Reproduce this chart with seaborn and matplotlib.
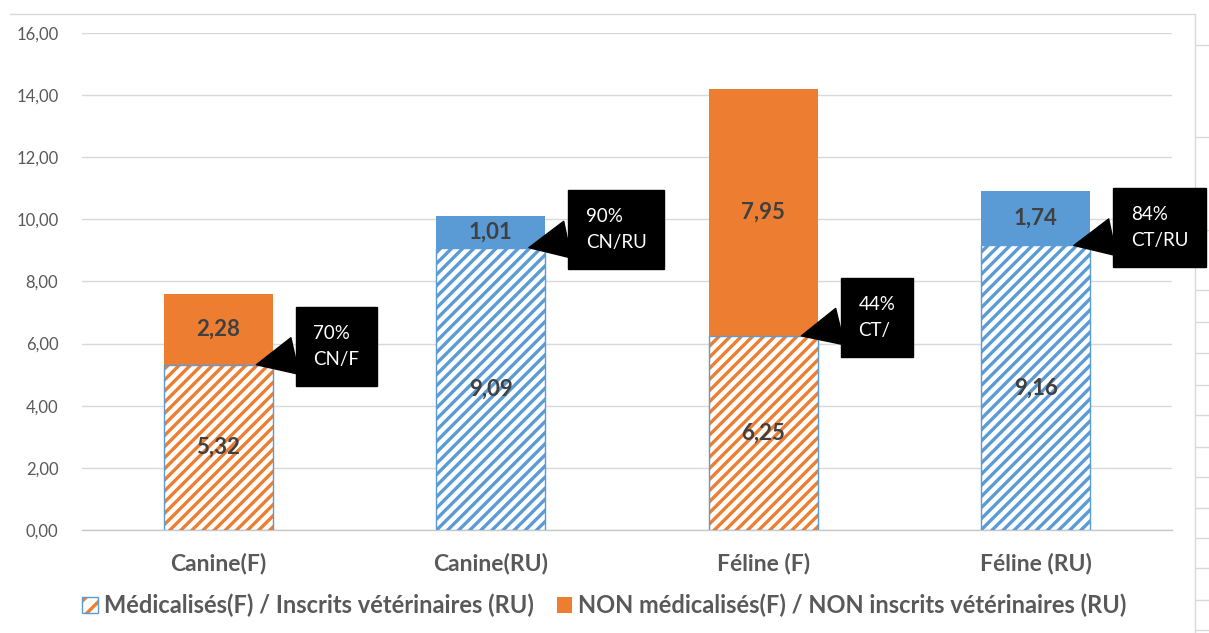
import numpy as np
import pandas as pd
import seaborn as sns
import matplotlib
matplotlib.use("Agg")
import matplotlib.pyplot as plt
from matplotlib.patches import Patch, Rectangle
from matplotlib.lines import Line2D

# chart values
categories = ["Canine(F)", "Canine(RU)", "Féline (F)", "Féline (RU)"]
medicalises = [5.32, 9.09, 6.25, 9.16]
non_medicalises = [2.28, 1.01, 7.95, 1.74]
callout_pct = ["70%", "90%", "44%", "84%"]
callout_code = ["CN/F", "CN/RU", "CT/", "CT/RU"]
bar_colors = ["#ED7D31", "#5B9BD5", "#ED7D31", "#5B9BD5"]
legend_labels = ["Médicalisés(F) / Inscrits vétérinaires (RU)",
                 "NON médicalisés(F) / NON inscrits vétérinaires (RU)"]
y_ticks = [0, 2, 4, 6, 8, 10, 12, 14, 16]

ORANGE = "#ED7D31"
BLUE = "#5B9BD5"
GRID = "#D9D9D9"
TXT = "#595959"


def fr(v):
    return f"{v:.2f}".replace(".", ",")


def main():
    sns.set_theme(style="white")
    plt.rcParams["font.family"] = ["Lato", "DejaVu Sans"]
    plt.rcParams["hatch.linewidth"] = 2.4

    df = pd.DataFrame({"cat": categories, "bottom": medicalises, "top": non_medicalises})
    df["total"] = df["bottom"] + df["top"]

    fig = plt.figure(figsize=(12.09, 6.33), dpi=100)
    ax = fig.add_axes([0.0678, 0.1627, 0.9016, 0.7852])
    ax.set_facecolor("none")

    # full stack height in the "top" colour, bottom part drawn over it
    sns.barplot(data=df, x="cat", y="total", hue="cat", palette=bar_colors,
                width=0.4, saturation=1, linewidth=0, legend=False, ax=ax, zorder=2)
    n = len(ax.patches)
    sns.barplot(data=df, x="cat", y="bottom", color="white",
                width=0.4, saturation=1, linewidth=0, ax=ax, zorder=3)
    hatched = ax.patches[n:]
    for p, c in zip(hatched, bar_colors):
        p.set_edgecolor(c)
        p.set_hatch("///")
        p.set_linewidth(0)
        ax.add_patch(Rectangle(p.get_xy(), p.get_width(), p.get_height(),
                               fill=False, ec=BLUE, lw=1.0, zorder=4))

    # value labels
    for i, (b, t) in enumerate(zip(medicalises, non_medicalises)):
        ax.text(i, b / 2, fr(b), ha="center", va="center", fontsize=16,
                fontweight="bold", color="#404040", zorder=6)
        ax.text(i, b + t / 2, fr(t), ha="center", va="center", fontsize=16,
                fontweight="bold", color="#404040", zorder=6)

    # black callouts
    for i, (b, pct, code) in enumerate(zip(medicalises, callout_pct, callout_code)):
        ax.annotate(f"{pct}\n{code}", xy=(i + 0.14, b), xytext=(41, 13),
                    textcoords="offset points", ha="left", va="center",
                    color="white", fontsize=13.5, linespacing=1.65,
                    bbox=dict(boxstyle="square,pad=0.95", fc="black", ec="black"),
                    arrowprops=dict(arrowstyle="wedge,tail_width=2.0", fc="black",
                                    ec="black", shrinkA=0, shrinkB=0),
                    annotation_clip=False, zorder=7)

    ax.set_ylim(0, 16)
    ax.set_xlim(-0.5, len(categories) - 0.5)
    ax.set_yticks(y_ticks)
    ax.set_yticklabels([fr(v) for v in y_ticks])
    ax.yaxis.grid(True, color=GRID, lw=1)
    ax.set_axisbelow(True)
    for s in ["left", "right", "top"]:
        ax.spines[s].set_visible(False)
    ax.spines["bottom"].set_color("#C8C8C8")
    ax.spines["bottom"].set_linewidth(1)
    ax.tick_params(axis="y", length=0, pad=17, labelsize=12, labelcolor=TXT)
    ax.tick_params(axis="x", length=0, pad=16, labelcolor=TXT)
    for lab in ax.get_xticklabels():
        lab.set_fontsize(16.5)
        lab.set_fontweight("bold")
    ax.set_xlabel("")
    ax.set_ylabel("")

    # legend
    h1 = (Patch(fc="white", ec=ORANGE, hatch="//", lw=0),
          Patch(fill=False, ec=BLUE, lw=1))
    h2 = Patch(fc=ORANGE, ec=ORANGE, lw=0)
    leg = fig.legend([h1, h2], legend_labels, loc="center",
                     bbox_to_anchor=(0.5, 0.043), ncol=2, frameon=False,
                     handlelength=0.65, handleheight=0.65, handletextpad=0.25,
                     columnspacing=1.0,
                     prop={"size": 17, "weight": "bold", "family": ["Lato", "DejaVu Sans"]})
    for t in leg.get_texts():
        t.set_color(TXT)

    # faint spreadsheet cell borders around the chart
    fig.add_artist(Line2D([10 / 1209, 1195 / 1209], [1 - 14 / 633, 1 - 14 / 633],
                          transform=fig.transFigure, color=GRID, lw=1, zorder=-1))
    fig.add_artist(Line2D([1195 / 1209, 1195 / 1209], [0, 1 - 14 / 633],
                          transform=fig.transFigure, color=GRID, lw=1, zorder=-1))
    for yy in [45, 137, 230, 290, 322, 353, 385, 415, 447, 477, 508, 538, 568, 600, 630]:
        fig.add_artist(Line2D([1195 / 1209, 1], [1 - yy / 633, 1 - yy / 633],
                              transform=fig.transFigure, color=GRID, lw=1, zorder=-1))

    fig.savefig("out.png", dpi=100, facecolor="white")


if __name__ == "__main__":
    main()
